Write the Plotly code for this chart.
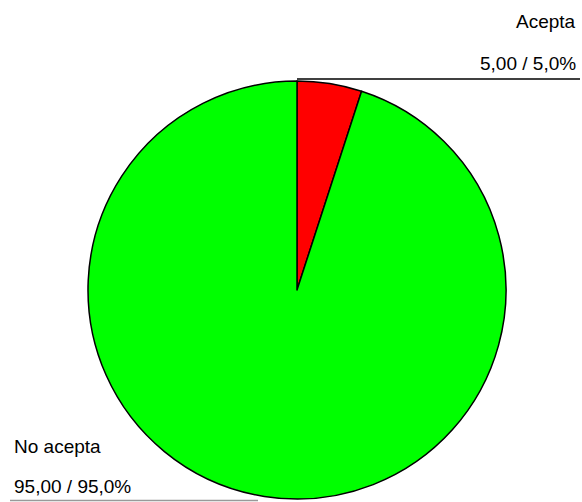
import plotly.graph_objects as go

labels = ["Acepta", "No acepta"]
values = [5.0, 95.0]
percents = [5.0, 95.0]
colors = ["#FF0000", "#00FF00"]

W, H = 582, 502
cx, cy, r = 297, 290, 209

def px(x):
    return x / W

def py(y):
    return 1 - y / H

fig = go.Figure(go.Pie(
    labels=labels,
    values=values,
    sort=False,
    direction="clockwise",
    rotation=0,
    marker=dict(colors=colors, line=dict(color="black", width=1.5)),
    textinfo="none",
    hoverinfo="label+value+percent",
    domain=dict(x=[px(cx - r), px(cx + r)], y=[py(cy + r), py(cy - r)]),
    showlegend=False,
))

def fmt(v):
    return f"{v:.2f}".replace(".", ",")

def fmtp(p):
    return f"{p:.1f}".replace(".", ",") + "%"

font = dict(family="Liberation Sans, Arial, sans-serif", size=19, color="black")
ann = [
    dict(x=px(578), y=py(22), text=labels[0], xanchor="right", yanchor="middle"),
    dict(x=px(578), y=py(63), text=f"{fmt(values[0])} / {fmtp(percents[0])}", xanchor="right", yanchor="middle"),
    dict(x=px(12), y=py(446), text=labels[1], xanchor="left", yanchor="middle"),
    dict(x=px(12), y=py(486), text=f"{fmt(values[1])} / {fmtp(percents[1])}", xanchor="left", yanchor="middle"),
]
for a in ann:
    a.update(xref="paper", yref="paper", showarrow=False, font=font)

shapes = [
    dict(type="line", xref="paper", yref="paper", x0=px(297), x1=px(580), y0=py(79), y1=py(79),
         line=dict(color="black", width=1.5)),
    dict(type="line", xref="paper", yref="paper", x0=px(10), x1=px(258), y0=py(500.5), y1=py(500.5),
         line=dict(color="#999999", width=1.5)),
]

fig.update_layout(
    width=W, height=H,
    margin=dict(l=0, r=0, t=0, b=0),
    paper_bgcolor="white", plot_bgcolor="white",
    annotations=ann, shapes=shapes,
)

fig.write_html(
    "out.html",
    config={"displayModeBar": False},
    post_script="document.body.style.margin='0';document.body.style.overflow='hidden';",
)
